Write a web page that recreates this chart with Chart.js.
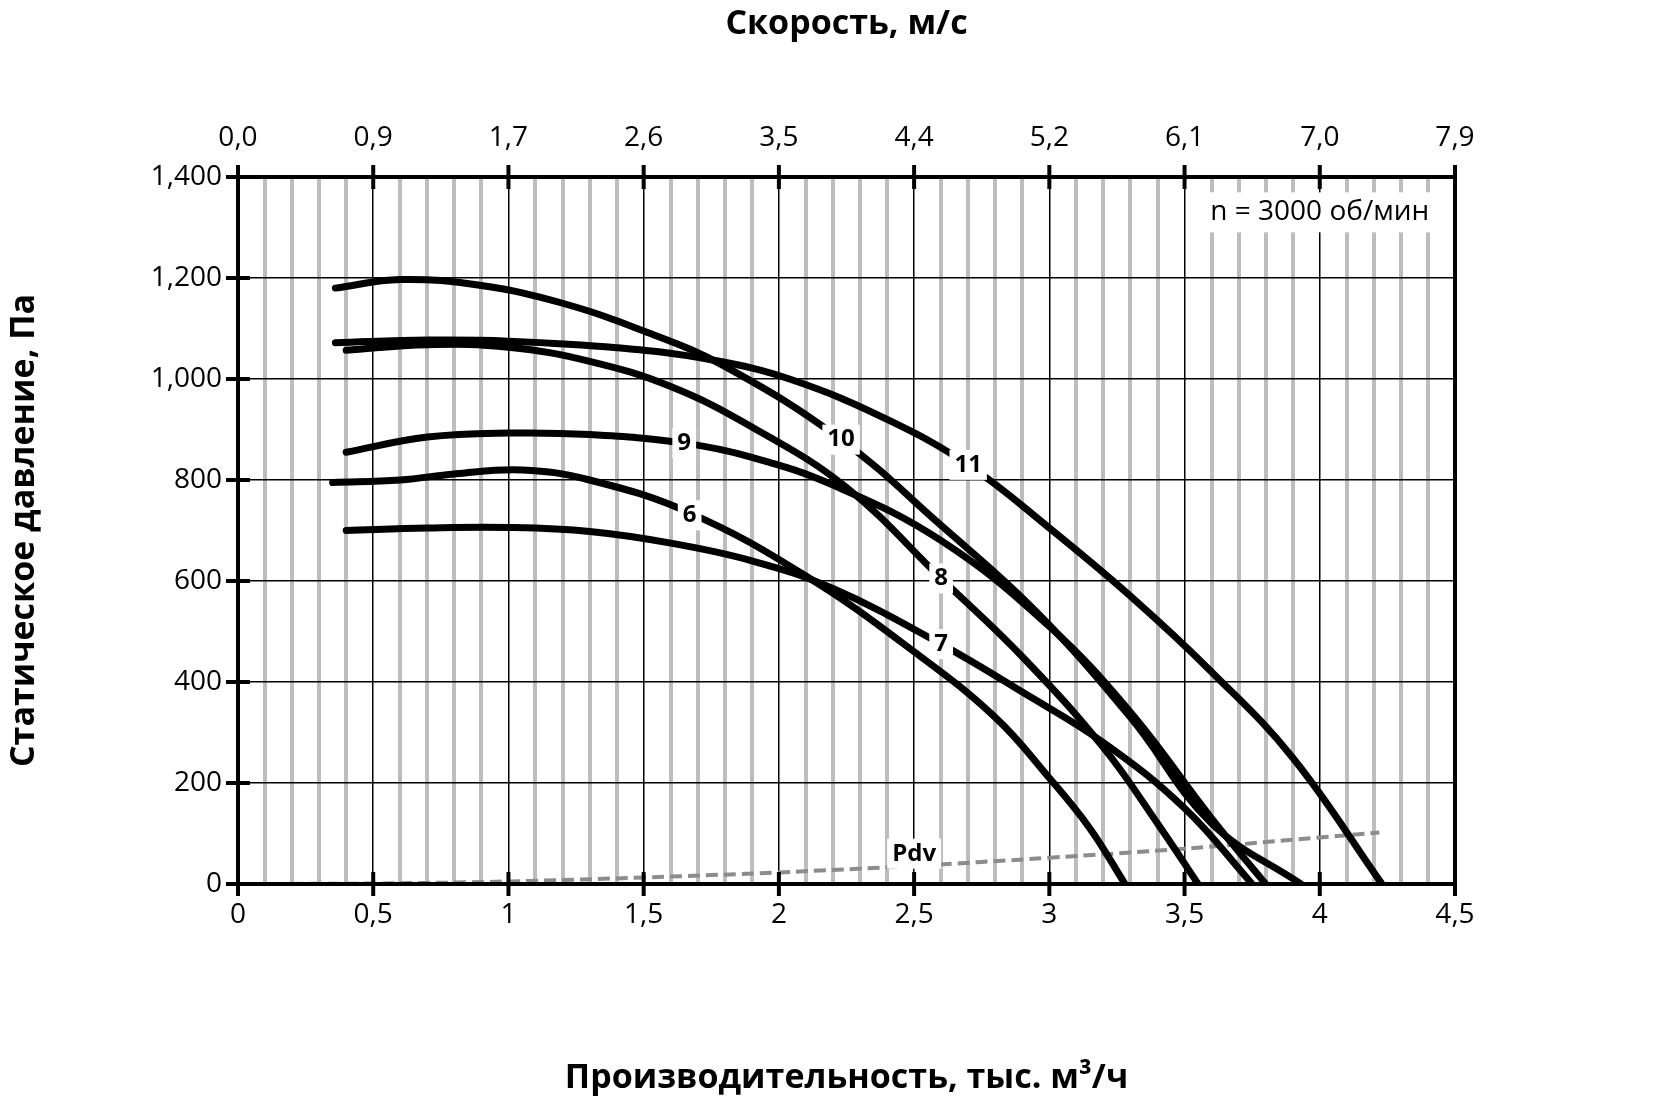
<!DOCTYPE html>
<html><head><meta charset="utf-8">
<script src="https://cdn.jsdelivr.net/npm/chart.js@4"></script>
<style>body{margin:0;background:#fff}#c{display:block}</style>
</head><body>
<canvas id="c" width="1654" height="1103" style="width:1654px;height:1103px"></canvas>
<script>
// curve points: [flow, thousand m3/h ; pressure, Pa]
const curve6 = [[0.35,795],[0.6,800],[0.8,812],[1.05,820],[1.3,800],[1.67,735],[2.1,610],[2.5,460],[2.8,330],[3.0,210],[3.15,110],[3.28,0]]
const curve7 = [[0.4,700],[0.7,705],[1.0,706],[1.3,698],[1.6,675],[1.9,640],[2.2,585],[2.6,475],[2.9,380],[3.2,280],[3.5,150],[3.75,0]]
const curve8 = [[0.4,1057],[0.7,1068],[1.0,1063],[1.3,1035],[1.6,985],[1.9,905],[2.25,785],[2.6,605],[2.9,450],[3.2,270],[3.4,120],[3.55,0]]
const curve9 = [[0.4,855],[0.7,885],[1.0,893],[1.3,890],[1.65,873],[1.9,845],[2.2,790],[2.6,680],[3.0,510],[3.3,340],[3.6,130],[3.8,0]]
const curve10 = [[0.36,1180],[0.6,1197],[0.9,1185],[1.2,1150],[1.5,1095],[1.8,1025],[2.23,880],[2.6,710],[2.95,540],[3.3,330],[3.6,120],[3.93,0]]
const curve11 = [[0.36,1072],[0.7,1077],[1.0,1075],[1.4,1062],[1.75,1038],[2.05,998],[2.4,920],[2.7,830],[3.0,705],[3.3,570],[3.6,420],[3.9,250],[4.23,0]]
const pdv = [[0,0],[0.5,1],[1.0,5],[1.5,13],[2.0,23],[2.5,36],[3.0,52],[3.5,70],[4.0,92],[4.22,102]]
const curveLabels = [['6',1.67,730],['7',2.6,475],['8',2.6,605],['9',1.65,873],['10',2.23,880],['11',2.7,830],['Pdv',2.5,60]]
const speedTicks = ['0,0','0,9','1,7','2,6','3,5','4,4','5,2','6,1','7,0','7,9']

const pts = a => a.map(p => ({x: p[0], y: p[1]}))
const curves = [curve6, curve7, curve8, curve9, curve10, curve11]
const datasets = curves.map(c => ({data: pts(c), borderColor: '#000', borderWidth: 7, pointRadius: 0, tension: 0.4, borderCapStyle: 'round', xAxisID: 'x', yAxisID: 'y'}))
datasets.push({data: pts(pdv), borderColor: '#8c8c8c', borderWidth: 4, borderDash: [12, 6], pointRadius: 0, tension: 0.4, xAxisID: 'x', yAxisID: 'y'})

const isMajor = v => Math.abs(v * 2 - Math.round(v * 2)) < 1e-6

const decor = {
  id: 'decor',
  afterDatasetsDraw(chart) {
    const ctx = chart.ctx, a = chart.chartArea
    const x = chart.scales.x, y = chart.scales.y
    ctx.save()
    ctx.strokeStyle = '#000'; ctx.lineWidth = 4
    ctx.strokeRect(a.left, a.top, a.right - a.left, a.bottom - a.top)
    for (let i = 0; i <= 9; i++) {
      const px = x.getPixelForValue(i * 0.5)
      ctx.beginPath(); ctx.moveTo(px, a.bottom - 12); ctx.lineTo(px, a.bottom + 12); ctx.stroke()
      ctx.beginPath(); ctx.moveTo(px, a.top - 12); ctx.lineTo(px, a.top + 12); ctx.stroke()
    }
    for (let v = 0; v <= 1400; v += 200) {
      const py = y.getPixelForValue(v)
      ctx.beginPath(); ctx.moveTo(a.left - 12, py); ctx.lineTo(a.left + 12, py); ctx.stroke()
    }
    ctx.textAlign = 'center'; ctx.textBaseline = 'middle'
    ctx.font = 'bold 24px "Open Sans", sans-serif'
    curveLabels.forEach(l => {
      const px = x.getPixelForValue(l[1]), py = y.getPixelForValue(l[2])
      const w = ctx.measureText(l[0]).width + 10
      ctx.fillStyle = '#fff'; ctx.fillRect(px - w / 2, py - 15, w, 30)
      ctx.fillStyle = '#000'; ctx.fillText(l[0], px, py)
    })
    ctx.font = '28px "Open Sans", sans-serif'
    const tx = x.getPixelForValue(4.0), ty = y.getPixelForValue(1330)
    const tw = ctx.measureText('n = 3000 об/мин').width + 10
    ctx.fillStyle = '#fff'; ctx.fillRect(tx - tw / 2, ty - 20, tw, 40)
    ctx.fillStyle = '#000'; ctx.fillText('n = 3000 об/мин', tx, ty)
    ctx.restore()
  }
}

new Chart(document.getElementById('c'), {
  type: 'line',
  data: {datasets: datasets},
  plugins: [decor],
  options: {
    responsive: false, animation: false,
    devicePixelRatio: 1,
    layout: {padding: {right: 199, left: 0, top: 0, bottom: 0}},
    plugins: {legend: {display: false}, tooltip: {enabled: false}},
    scales: {
      x: {
        type: 'linear', position: 'bottom', min: 0, max: 4.5,
        afterFit: s => { s.height = 219 },
        ticks: {stepSize: 0.1, autoSkip: false, maxRotation: 0, color: '#000', padding: 14,
          font: {size: 28, family: '"Open Sans", sans-serif'},
          callback: v => isMajor(v) ? String(Math.round(v * 10) / 10).replace('.', ',') : ''},
        grid: {drawTicks: false,
          color: c => isMajor(c.tick.value) ? '#000' : '#bdbdbd',
          lineWidth: c => isMajor(c.tick.value) ? 1.5 : 4},
        border: {display: false},
        title: {display: true, text: 'Производительность, тыс. м³/ч', color: '#000', padding: {top: 0},
          font: {size: 34, weight: 'bold', family: '"Open Sans", sans-serif'}}
      },
      x2: {
        type: 'linear', position: 'top', min: 0, max: 4.5,
        afterFit: s => { s.height = 177 },
        ticks: {stepSize: 0.5, maxRotation: 0, color: '#000', padding: 14,
          font: {size: 28, family: '"Open Sans", sans-serif'},
          callback: v => speedTicks[Math.round(v * 2)]},
        grid: {display: false},
        border: {display: false},
        title: {display: true, text: 'Скорость, м/с', color: '#000', padding: {bottom: 2},
          font: {size: 34, weight: 'bold', family: '"Open Sans", sans-serif'}}
      },
      y: {
        type: 'linear', position: 'left', min: 0, max: 1400,
        afterFit: s => { s.width = 238 },
        ticks: {stepSize: 200, color: '#000', padding: 16,
          font: {size: 28, family: '"Open Sans", sans-serif'}},
        grid: {drawTicks: false, color: '#000', lineWidth: 1.5},
        border: {display: false},
        title: {display: true, text: 'Статическое давление, Па', color: '#000',
          font: {size: 34, weight: 'bold', family: '"Open Sans", sans-serif'}}
      }
    }
  }
})
</script>
</body></html>
